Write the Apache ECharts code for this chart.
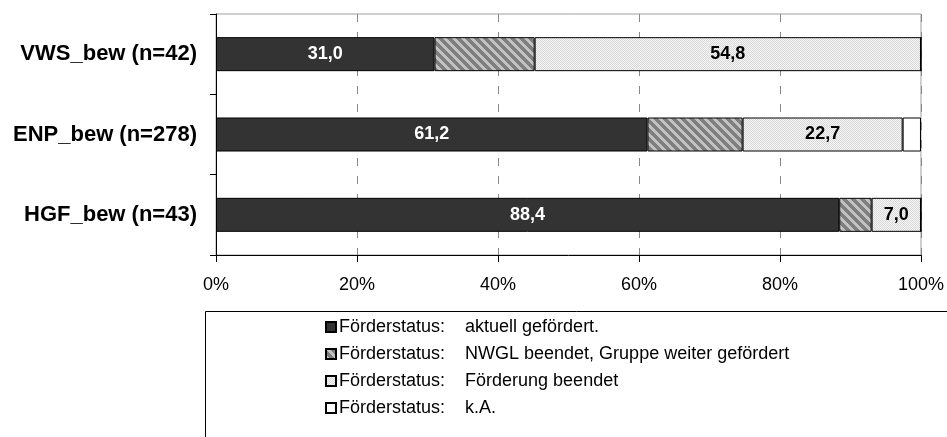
<!DOCTYPE html>
<html>
<head>
<meta charset="utf-8">
<script src="https://cdn.jsdelivr.net/npm/echarts@6/dist/echarts.min.js"></script>
<style>
  html, body { margin: 0; padding: 0; background: #fff; }
  #chart { width: 947px; height: 437px; }
</style>
</head>
<body>
<div id="chart"></div>
<script>
const categories = ['VWS_bew (n=42)', 'ENP_bew (n=278)', 'HGF_bew (n=43)']
const seriesNames = [
  'Förderstatus:    aktuell gefördert.',
  'Förderstatus:    NWGL beendet, Gruppe weiter gefördert',
  'Förderstatus:    Förderung beendet',
  'Förderstatus:    k.A.'
]
const aktuell = [31.0, 61.2, 88.4]
const nwgl = [14.2, 13.5, 4.6]
const beendet = [54.8, 22.7, 7.0]
const ka = [0, 2.6, 0]
const xTicks = [0, 20, 40, 60, 80, 100]

// small canvas tiles for the Excel-like fill patterns
const makeTile = (size, fn) => {
  const c = document.createElement('canvas')
  c.width = size
  c.height = size
  const ctx = c.getContext('2d')
  for (let y = 0; y < size; y++) {
    for (let x = 0; x < size; x++) {
      ctx.fillStyle = fn(x, y)
      ctx.fillRect(x, y, 1, 1)
    }
  }
  return c
}
const hatchTile = makeTile(9, (x, y) => (((x - y) % 9 + 9) % 9) < 4 ? '#c2c2c2' : '#7f7f7f')
const dotTile = makeTile(4, (x, y) => ((x + y) % 2 === 0) ? '#d6d6d6' : '#f8f8f8')

const fmt = v => v.toFixed(1).replace('.', ',')
const font = 'Liberation Sans, Arial, sans-serif'

const chart = echarts.init(document.getElementById('chart'))

const barBase = {
  type: 'bar',
  stack: 'total',
  barWidth: 34,
  itemStyle: { borderColor: '#000', borderWidth: 1 }
}

chart.setOption({
  animation: false,
  grid: {
    left: 216, right: 26, top: 14, bottom: 182,
    show: true, borderColor: '#a0a0a0', borderWidth: 1
  },
  legend: {
    orient: 'vertical',
    left: 320,
    top: 312,
    itemWidth: 10,
    itemHeight: 10,
    itemGap: 7,
    icon: 'rect',
    textStyle: { fontFamily: font, fontSize: 18, color: '#000', lineHeight: 20, padding: [0, 0, 0, -2] },
    data: seriesNames
  },
  xAxis: {
    type: 'value',
    min: 0, max: 100, interval: 20,
    axisLine: { show: true, lineStyle: { color: '#000', width: 1 } },
    axisTick: { show: true, length: 7, lineStyle: { color: '#000' } },
    axisLabel: {
      margin: 21,
      fontFamily: font, fontSize: 18, color: '#000',
      formatter: v => xTicks.includes(v) ? v + '%' : ''
    },
    splitLine: { show: true, lineStyle: { color: '#888', type: [8, 10], width: 1 } }
  },
  yAxis: {
    type: 'category',
    inverse: true,
    data: categories,
    axisLine: { show: true, lineStyle: { color: '#000', width: 1 } },
    axisTick: { show: true, length: 6, lineStyle: { color: '#000' } },
    axisLabel: {
      margin: 19,
      fontFamily: font, fontSize: 22, fontWeight: 'bold', color: '#000'
    }
  },
  graphic: [{
    type: 'rect',
    shape: { x: 205.5, y: 311.5, width: 800, height: 200 },
    style: { fill: 'none', stroke: '#000', lineWidth: 1 },
    z: -1
  }],
  series: [
    Object.assign({}, barBase, {
      name: seriesNames[0],
      data: aktuell,
      itemStyle: { color: '#333333', borderColor: '#000', borderWidth: 1 },
      label: {
        show: true, position: 'inside', formatter: p => fmt(p.value),
        color: '#fff', fontFamily: font, fontSize: 18, fontWeight: 'bold'
      }
    }),
    Object.assign({}, barBase, {
      name: seriesNames[1],
      data: nwgl,
      itemStyle: { color: { image: hatchTile, repeat: 'repeat' }, borderColor: '#000', borderWidth: 1 }
    }),
    Object.assign({}, barBase, {
      name: seriesNames[2],
      data: beendet,
      itemStyle: { color: { image: dotTile, repeat: 'repeat' }, borderColor: '#000', borderWidth: 1 },
      label: {
        show: true, position: 'inside', formatter: p => fmt(p.value),
        color: '#000', fontFamily: font, fontSize: 18, fontWeight: 'bold'
      }
    }),
    Object.assign({}, barBase, {
      name: seriesNames[3],
      data: ka,
      itemStyle: { color: '#fff', borderColor: '#000', borderWidth: 1 }
    })
  ]
})
</script>
</body>
</html>
